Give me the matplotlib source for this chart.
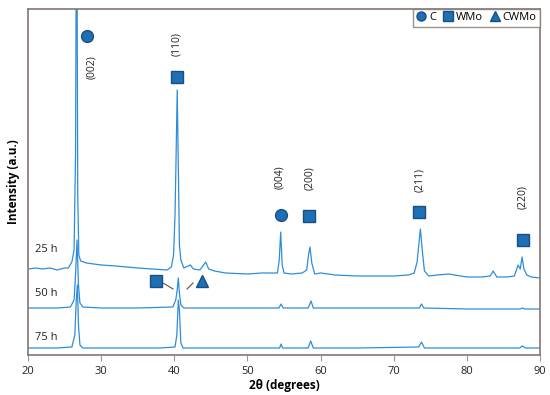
import numpy as np
import matplotlib
matplotlib.use('Agg')
import matplotlib.pyplot as plt
from matplotlib.lines import Line2D

plt.rcParams['font.family'] = ['Open Sans', 'DejaVu Sans']

# XRD patterns (2theta in degrees, intensity in a.u.)
tt_25 = [20, 21, 22, 23, 24, 25, 25.5, 26.0, 26.3, 26.5, 26.65, 26.8, 26.95, 27.2, 28, 30, 32, 35, 37, 39, 39.6,
         39.9, 40.1, 40.25, 40.4, 40.55, 40.7, 40.9, 41.3, 42.2, 42.6, 43.5, 44.3, 44.7, 45.5, 47, 50, 52, 54.1,
         54.35, 54.55, 54.75, 55.0, 56, 57.5, 58.1, 58.35, 58.55, 58.8, 59.2, 60, 62, 65, 68, 70, 72, 72.8, 73.2,
         73.45, 73.65, 73.9, 74.2, 74.8, 76, 77.5, 80, 82, 83.2, 83.6, 84.1, 85.5, 86.5, 87.0, 87.3, 87.55, 87.8,
         88.2, 88.8, 90]
int_25 = [86, 87, 86, 87, 85, 87, 87, 93, 105, 200, 520, 160, 100, 94, 92, 90, 89, 87, 86, 85, 88,
          100, 140, 200, 265, 190, 110, 95, 87, 90, 86, 85, 93, 86, 84, 82, 81, 82, 82,
          95, 123, 90, 82, 81, 82, 85, 100, 108, 92, 81, 82, 80, 79, 79, 79, 80, 82, 93,
          112, 126, 105, 84, 79, 80, 81, 78, 78, 79, 84, 78, 78, 79, 90, 86, 98, 86,
          80, 78, 77]

tt_50 = [20, 24, 25.8, 26.3, 26.5, 26.7, 26.9, 27.1, 27.5, 30, 35, 39.8, 40.2, 40.4, 40.55, 40.7, 40.9, 41.3, 45,
         50, 54.3, 54.6, 54.9, 58.3, 58.7, 59.0, 65, 70, 73.5, 73.8, 74.1, 80, 87.3, 87.6, 87.9, 90]
int_50 = [47, 47, 48, 55, 80, 115, 70, 52, 48, 47, 47, 48, 55, 65, 77, 62, 50, 47, 47,
          47, 47, 51, 47, 47, 54, 47, 47, 47, 47, 51, 47, 46, 46, 47, 46, 46]

tt_75 = [20, 24, 26.0, 26.4, 26.6, 26.75, 26.9, 27.1, 27.5, 32, 38, 40.1, 40.35, 40.55, 40.7, 40.9, 41.2, 45,
         50, 54.4, 54.6, 54.8, 58.3, 58.65, 59.0, 65, 73.4, 73.8, 74.2, 80, 87.2, 87.6, 88.0, 90]
int_75 = [7, 7, 8, 20, 55, 70, 30, 10, 7, 7, 7, 8, 20, 55, 45, 12, 7, 7,
          7, 7, 11, 7, 7, 14, 7, 7, 8, 13, 7, 7, 7, 9, 7, 7]

offset_labels = ['25 h', '50 h', '75 h']
offset_label_y = [105, 62, 17]

# phase markers: (2theta, height)
c_x = [28.07, 54.59]
c_y = [319, 140]
wmo_x = [40.37, 58.42, 73.46, 87.68, 37.5]
wmo_y = [278, 139, 143, 115, 74]
cwmo_x = [43.79]
cwmo_y = [74]

hkl_labels = ['(002)', '(110)', '(004)', '(200)', '(211)', '(220)']
hkl_x = [28.75, 40.37, 54.45, 58.56, 73.6, 87.68]
hkl_y = [288, 311, 178, 177, 175, 158]

line_col = '#2e8ddb'
face_col = '#1f6fb4'
edge_col = '#174f84'
frame_col = '#857670'

fig = plt.figure(figsize=(5.5, 3.95), dpi=100)
ax = fig.add_axes([28 / 550, 40 / 395, 512 / 550, 346 / 395])

ax.plot(tt_25, int_25, color=line_col, lw=0.9)
ax.plot(tt_50, int_50, color=line_col, lw=0.9)
ax.plot(tt_75, int_75, color=line_col, lw=0.9)

ax.plot(c_x, c_y, 'o', ms=8.5, mfc=face_col, mec=edge_col, mew=1, ls='none')
ax.plot(wmo_x, wmo_y, 's', ms=8, mfc=face_col, mec=edge_col, mew=1, ls='none')
ax.plot(cwmo_x, cwmo_y, '^', ms=9, mfc=face_col, mec=edge_col, mew=1, ls='none')

# little pointer lines from the markers near 40 deg
ax.plot([38.46, 39.83], [72, 66], color='#555555', lw=0.8)
ax.plot([41.74, 42.56], [66, 72], color='#555555', lw=0.8)

for lab, x, y in zip(hkl_labels, hkl_x, hkl_y):
    ax.text(x, y, lab, rotation=90, ha='center', va='center', fontsize=7.5, color='#222222')

for lab, y in zip(offset_labels, offset_label_y):
    ax.text(20.96, y, lab, ha='left', va='center', fontsize=8, color='#222222')

ax.set_xlim(20, 90)
ax.set_ylim(0, 346)
ax.set_xticks([20, 30, 40, 50, 60, 70, 80, 90])
ax.set_yticks([])
ax.tick_params(axis='x', length=4, width=0.8, color='#999999', labelsize=8, pad=4, labelcolor='#222222')
for s in ax.spines.values():
    s.set_color(frame_col)
    s.set_linewidth(1.2)

ax.set_xlabel('2θ (degrees)', fontsize=8.5, fontweight='bold', labelpad=1)
ax.set_ylabel('Intensity (a.u.)', fontsize=8.5, fontweight='bold', labelpad=6)

handles = [
    Line2D([], [], marker='o', ls='none', ms=6.5, mfc=face_col, mec=edge_col),
    Line2D([], [], marker='s', ls='none', ms=6.5, mfc=face_col, mec=edge_col),
    Line2D([], [], marker='^', ls='none', ms=7.5, mfc=face_col, mec=edge_col),
]
leg = ax.legend(handles, ['C', 'WMo', 'CWMo'], loc='upper right', ncol=3, fontsize=8,
                frameon=True, fancybox=False, edgecolor=frame_col, borderaxespad=0,
                handlelength=0.8, handletextpad=0.3, columnspacing=0.7, borderpad=0.3)
leg.get_frame().set_linewidth(1.0)

fig.savefig('out.png', dpi=100)
